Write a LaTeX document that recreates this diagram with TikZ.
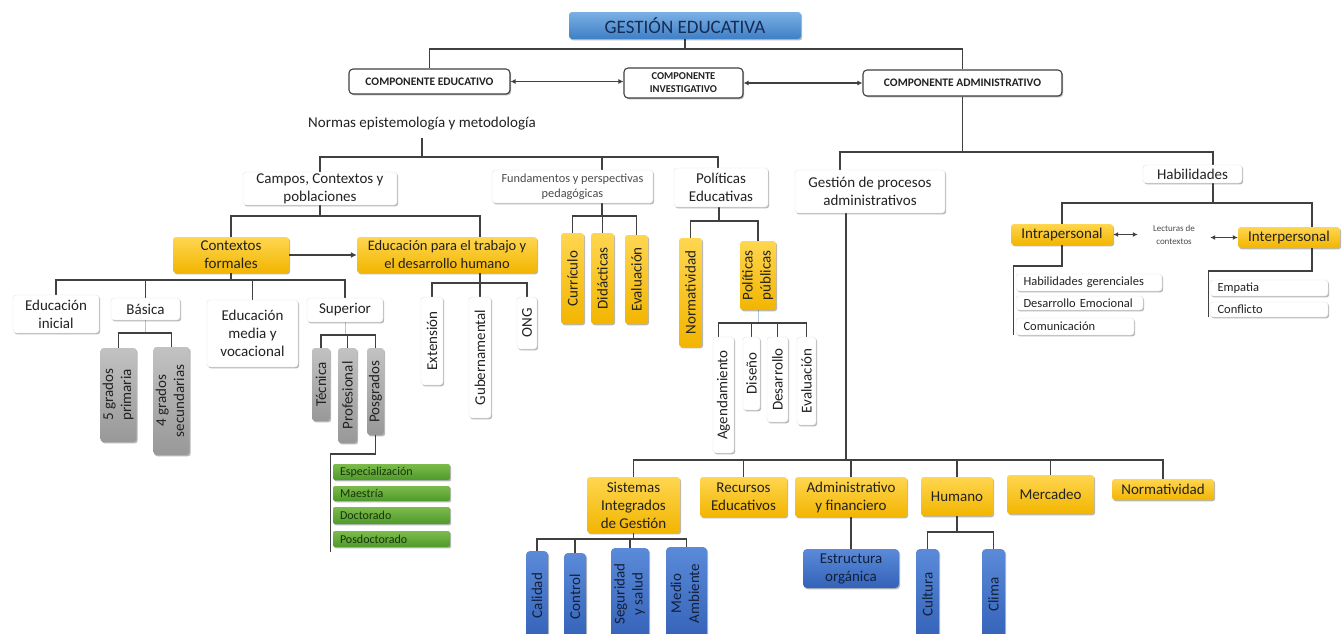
\documentclass[tikz,border=0pt]{standalone}
\usepackage{fontspec}
\setmainfont{Carlito}
\usepackage{graphicx}
\usetikzlibrary{arrows.meta,shadows,calc,backgrounds}
\definecolor{lineg}{HTML}{404040}
\definecolor{txt}{HTML}{222222}
\definecolor{goldT}{HTML}{FFD650}
\definecolor{goldB}{HTML}{F2B500}
\definecolor{blueT}{HTML}{7AB0E4}
\definecolor{blueB}{HTML}{3F7FC6}
\definecolor{navy}{HTML}{172C55}
\definecolor{dblueT}{HTML}{5A8AD8}
\definecolor{dblueB}{HTML}{3462B8}
\definecolor{bluetxt}{HTML}{13203A}
\definecolor{grayT}{HTML}{C2C2C2}
\definecolor{grayB}{HTML}{989898}
\definecolor{grnT}{HTML}{7CBB4C}
\definecolor{grnB}{HTML}{4E9A2A}
\definecolor{grntxt}{HTML}{1A330C}
\definecolor{lblue}{HTML}{A9C8E8}
\newcommand\fsz[2]{\fontsize{#1}{#2}\selectfont}
\newcommand\rot[1]{\rotatebox{90}{#1}}
\newcommand\rotii[2]{\rotatebox{90}{\begin{tabular}{@{}c@{}}#1\\#2\end{tabular}}}
\newcommand\nd[6]{\node[#1,minimum width=#4pt,minimum height=#5pt] (#2) at (#3) {#6};}
\newcommand\tc[4][conn]{\draw[#1] (#2) -- (#2 |- 0,#3) -| (#4);}
\tikzset{
 base/.style={inner sep=0pt, align=center, text=txt, font=\fsz{15}{18}},
 shad/.style={drop shadow={shadow xshift=1.2pt, shadow yshift=-1.4pt, opacity=0.28, fill=black}},
 wbox/.style={base, draw=gray!22, fill=white, rounded corners=3pt, shad},
 gold/.style={base, rounded corners=3pt, top color=goldT, bottom color=goldB, shad},
 graybox/.style={base, rounded corners=3pt, top color=grayT, bottom color=grayB, shad},
 bbox/.style={base, rounded corners=4pt, top color=dblueT, bottom color=dblueB, text=bluetxt, shad},
 grn/.style={base, rounded corners=2pt, top color=grnT, bottom color=grnB, text=grntxt, font=\fsz{12}{14}, text width=103pt, align=left, inner xsep=7pt, shad},
 lst/.style={wbox, inner xsep=7.5pt, align=left, font=\fsz{12.5}{15}},
 hdr/.style={base, rounded corners=3pt, top color=blueT, bottom color=blueB, text=navy, font=\fsz{19}{22}, shad},
 comp/.style={base, draw=lineg, line width=1.1pt, fill=white, rounded corners=4pt, font=\bfseries\fsz{11.5}{13}, shad},
 conn/.style={draw=lineg, line width=1.3pt},
 lconn/.style={draw=lblue, line width=1pt},
 dbl/.style={conn, {Latex[length=5pt,width=5pt]}-{Latex[length=5pt,width=5pt]}},
}
\begin{document}
\begin{tikzpicture}[x=1pt,y=-1pt]
\useasboundingbox (0,0) rectangle (1343,633);
\clip (0,0) rectangle (1343,633);
% top
\nd{hdr}{ge}{685,25.5}{232}{27}{GESTIÓN EDUCATIVA}
\nd{comp}{ce}{429.5,81.5}{161}{25}{COMPONENTE EDUCATIVO}
\nd{comp,font=\bfseries\fsz{10.5}{13}}{ci}{683.5,83}{119}{30}{COMPONENTE\\INVESTIGATIVO}
\nd{comp}{ca}{962.5,83}{199}{26}{COMPONENTE ADMINISTRATIVO}
\node[base, minimum height=28pt] (nor) at (422,124) {Normas epistemología y metodología};
% second level
\nd{wbox}{campos}{320,188.5}{154}{33}{Campos, Contextos y\\poblaciones}
\nd{wbox,font=\fsz{12.3}{15},text=black!70}{fund}{572.5,186.5}{161}{33}{Fundamentos y perspectivas\\pedagógicas}
\nd{wbox}{pol}{721,187.5}{94}{39}{Políticas\\Educativas}
\nd{wbox}{gpa}{870,191.5}{150}{43}{Gestión de procesos\\administrativos}
\nd{wbox}{hab}{1192.5,174}{99}{18}{Habilidades}
% gold
\nd{gold}{cf}{231,255}{116}{36}{Contextos\\formales}
\nd{gold,font=\fsz{14.5}{18}}{ept}{447,255}{180}{36}{Educación para el trabajo y\\el desarrollo humano}
\nd{gold}{curr}{572.5,278.5}{23}{91}{\rot{Currículo}}
\nd{gold}{did}{602.5,278.5}{23}{91}{\rot{Didácticas}}
\nd{gold}{evf}{636.5,279.5}{23}{89}{\rot{Evaluación}}
\nd{gold}{norm}{690.5,292.5}{23}{109}{\rot{Normatividad}}
\nd{gold}{pp}{758,275.5}{30}{69}{\rotii{Políticas}{públicas}}
% white rotated
\nd{wbox}{age}{723.5,395}{21}{116}{\rot{Agendamiento}}
\nd{wbox}{dis}{751.5,373.5}{17}{73}{\rot{Diseño}}
\nd{wbox}{des}{777.5,379.5}{21}{85}{\rot{Desarrollo}}
\nd{wbox}{evp}{806.5,381}{19}{88}{\rot{Evaluación}}
\nd{wbox}{ext}{432,341}{22}{88}{\rot{Extensión}}
\nd{wbox}{gub}{480,357.5}{22}{121}{\rot{Gubernamental}}
\nd{wbox}{ong}{527,323}{20}{52}{\rot{ONG}}
% contextos formales children
\nd{wbox}{ei}{56,314}{86}{38}{Educación\\inicial}
\nd{wbox}{bas}{145.5,309}{69}{22}{Básica}
\nd{wbox}{emv}{252.5,333.5}{91}{67}{Educación\\media y\\vocacional}
\nd{wbox}{sup}{345,310}{76}{24}{Superior}
% gray
\nd{graybox}{p5}{118.5,395}{33}{94}{\rotii{5 grados}{primaria}}
\nd{graybox}{s4}{171.5,401}{33}{108}{\rotii{4 grados}{secundarias}}
\nd{graybox}{tec}{321,384.5}{18}{73}{\rot{Técnica}}
\nd{graybox}{prof}{347.5,395.5}{19}{95}{\rot{Profesional}}
\nd{graybox}{posg}{375.5,391.5}{17}{87}{\rot{Posgrados}}
% green
\nd{grn}{esp}{391.5,472}{117}{16}{Especialización}
\nd{grn}{mae}{391.5,493.5}{117}{15}{Maestría}
\nd{grn}{doc}{391.5,515.5}{117}{17}{Doctorado}
\nd{grn}{posd}{391.5,539}{117}{16}{Posdoctorado}
% habilidades
\nd{gold}{intra}{1062,234.5}{102}{21}{Intrapersonal}
\nd{gold}{inter}{1289,237.5}{102}{21}{Interpersonal}
\node[base, font=\fsz{9}{13}, text=black!70, minimum width=72pt] (lect) at (1174,235) {Lecturas de\\contextos};
\nd{lst,text width=131pt}{hg}{1089,282.5}{146}{17}{Habilidades gerenciales}
\nd{lst,text width=112pt}{de}{1079.5,303}{127}{14}{Desarrollo Emocional}
\nd{lst,text width=103pt}{com}{1075,326.5}{118}{17}{Comunicación}
\nd{lst,text width=103pt}{emp}{1269,288}{118}{16}{Empatia}
\nd{lst,text width=103pt}{conf}{1269,309.5}{118}{15}{Conflicto}
% bottom
\nd{gold}{sig}{633.5,505}{93}{56}{Sistemas\\Integrados\\de Gestión}
\nd{gold}{re}{743.5,497}{87}{40}{Recursos\\Educativos}
\nd{gold}{af}{851,497}{112}{40}{Administrativo\\y financiero}
\nd{gold}{hum}{957,496.5}{72}{39}{Humano}
\nd{gold}{mer}{1050.5,494.5}{87}{39}{Mercadeo}
\nd{gold}{nrm}{1163,489.5}{102}{21}{Normatividad}
\nd{bbox}{eo}{851,568.5}{96}{39}{Estructura\\orgánica}
\nd{bbox}{cal}{537,595.5}{22}{89}{\rot{Calidad}}
\nd{bbox}{ctl}{575,596.5}{22}{87}{\rot{Control}}
\nd{bbox}{seg}{630,594}{38}{92}{\rotii{Seguridad}{y salud}}
\nd{bbox}{med}{686.5,593.5}{41}{93}{\rotii{Medio}{Ambiente}}
\nd{bbox}{cul}{927.5,594.5}{23}{91}{\rot{Cultura}}
\nd{bbox}{cli}{993.5,594.5}{23}{91}{\rot{Clima}}
% helper coordinates
\coordinate (fundN) at ([xshift=29.5pt]fund.north);
\coordinate (fundS) at ([xshift=29.5pt]fund.south);
\coordinate (polN) at ([xshift=-3pt]pol.north);
\coordinate (polS) at ([xshift=-2pt]pol.south);
\coordinate (eptN) at ([xshift=33pt]ept.north);
\coordinate (eptS) at ([xshift=33pt]ept.south);
\coordinate (gl) at ([xshift=-2pt]esp.west);
\coordinate (glB) at ([yshift=-5pt]posd.south);
\coordinate (ageN) at ([xshift=-5pt]age.north);
\coordinate (gpaN) at ([xshift=-30pt]gpa.north);
\coordinate (gpaS) at ([xshift=-24pt]gpa.south);
\coordinate (habN) at ([xshift=20.5pt]hab.north);
\coordinate (habS) at ([xshift=20.5pt]hab.south);
\coordinate (interS) at ([xshift=23pt]inter.south);
\coordinate (interN) at ([xshift=23pt]inter.north);
\coordinate (hl) at ([xshift=-2pt]hg.north west);
\coordinate (hlB) at ([xshift=-2pt]com.south west);
\coordinate (cl) at ([xshift=-1pt]emp.north west);
\coordinate (clB) at ([xshift=-1pt]conf.south west);
\begin{scope}[on background layer]
\fill[white] (0,0) rectangle (1343,633);
\tc{ge.south}{49}{ce.north}
\tc{ge.south}{49}{ca.north}
\draw[dbl] (ce.east) -- (ce.east -| ci.west);
\draw[dbl] (ci.east) -- (ci.east -| ca.west);
\tc{nor.south}{157}{campos.north}
\tc{nor.south}{157}{fundN}
\tc{nor.south}{157}{polN}
\tc{campos.south}{216}{cf.north}
\tc{campos.south}{216}{eptN}
\draw[conn,-{Latex[length=6pt,width=6pt]}] (cf.east) -- (ept.west);
\foreach \c in {ei,bas,emv,sup} {\tc{cf.south}{280}{\c.north}}
\draw[lconn] (bas.south) -- (bas.south |- 0,333);
\draw[conn] (p5.north) -- (p5.north |- 0,333) -- (s4.north |- 0,333) -- (s4.north);
\draw[lconn] (sup.south) -- (sup.south |- 0,335);
\draw[conn] (tec.north) -- (tec.north |- 0,335) -- (posg.north |- 0,335) -- (posg.north);
\draw[conn] (prof.north) -- (prof.north |- 0,335);
\draw[conn] (posg.south) -- (posg.south |- 0,454) -- (gl |- 0,454) -- (gl |- glB);
\foreach \c in {ext,gub,ong} {\tc{eptS}{283}{\c.north}}
\foreach \c in {curr,did,evf} {\tc{fundS}{216}{\c.north}}
\foreach \c in {norm,pp} {\tc{polS}{221}{\c.north}}
\draw[lconn] (pp.south) -- (pp.south |- 0,323);
\draw[conn] (ageN) -- (ageN |- 0,323) -- (evp.north |- 0,323) -- (evp.north);
\draw[conn] (dis.north) -- (dis.north |- 0,323);
\draw[conn] (des.north) -- (des.north |- 0,323);
\tc{ca.south}{152}{gpaN}
\tc{ca.south}{152}{habN}
\tc{habS}{203}{intra.north}
\tc{habS}{203}{interN}
\draw[conn] (intra.south) |- (hl |- 0,266) -- (hlB);
\draw[conn] (interS) |- (cl |- 0,271) -- (clB);
\draw[dbl] (intra.east) -- (intra.east -| lect.west);
\draw[dbl] (lect.east |- inter.west) -- (inter.west);
\foreach \c in {sig,re,af,hum,mer,nrm} {\tc{gpaS}{460}{\c.north}}
\foreach \c in {cal,ctl,seg,med} {\tc{sig.south}{539}{\c.north}}
\draw[conn] (af.south) -- (eo.north);
\foreach \c in {cul,cli} {\tc{hum.south}{532}{\c.north}}
\end{scope}
\end{tikzpicture}
\end{document}
